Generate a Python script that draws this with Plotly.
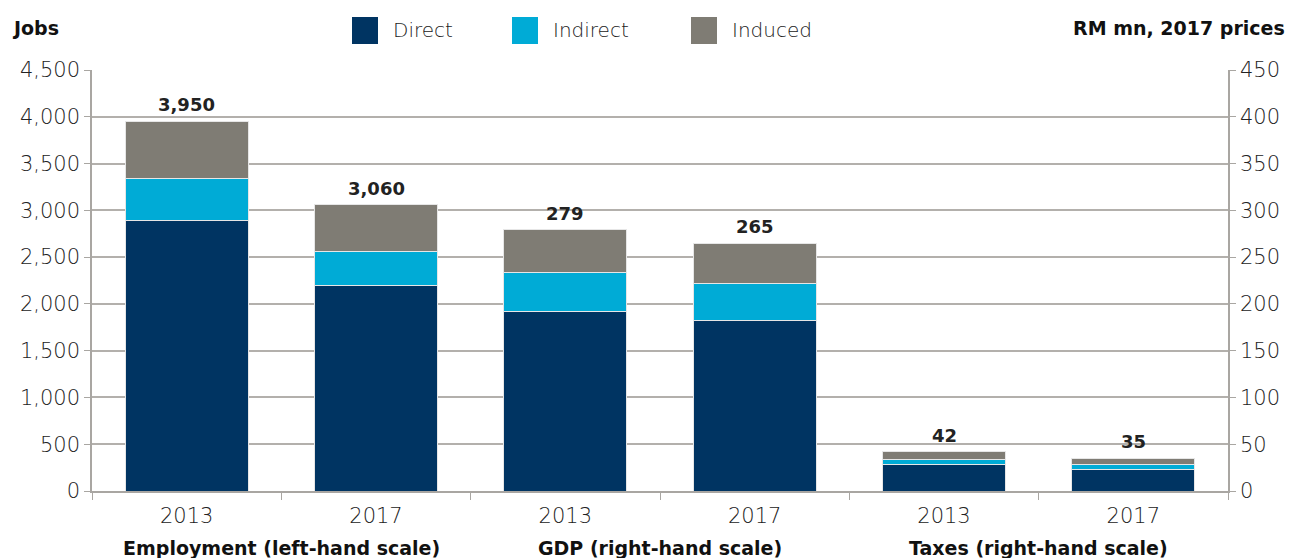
import plotly.graph_objects as go

years = ["2013", "2017", "2013", "2017", "2013", "2017"]
groups = ["Employment (left-hand scale)", "GDP (right-hand scale)", "Taxes (right-hand scale)"]
series = ["Direct", "Indirect", "Induced"]
colors = ["#003462", "#00abd6", "#7f7c74"]

# Employment (jobs, left scale)
emp_direct = [2890, 2195]
emp_indirect = [450, 370]
emp_induced = [610, 495]
emp_totals = [3950, 3060]

# GDP and Taxes (RM mn, right scale): GDP 2013, GDP 2017, Taxes 2013, Taxes 2017
rm_direct = [192, 182, 28, 23]
rm_indirect = [42, 40, 6, 5.5]
rm_induced = [45, 43, 8, 6.5]
rm_totals = [279, 265, 42, 35]

FONT = "DejaVu Sans"
fig = go.Figure()

emp_x = [0, 1]
rm_x = [2, 3, 4, 5]
emp_vals = [emp_direct, emp_indirect, emp_induced]
rm_vals = [rm_direct, rm_indirect, rm_induced]

for i, name in enumerate(series):
    fig.add_trace(go.Bar(x=emp_x, y=emp_vals[i], name=name,
                         marker=dict(color=colors[i], line=dict(color="#e6e6e6", width=1)),
                         width=0.65, showlegend=False, yaxis="y"))
for i, name in enumerate(series):
    fig.add_trace(go.Bar(x=rm_x, y=rm_vals[i], name=name,
                         marker=dict(color=colors[i], line=dict(color="#e6e6e6", width=1)),
                         width=0.65, showlegend=False, yaxis="y2"))

valfont = dict(family=FONT, size=18, color="#222222", weight="bold")
for x, v in zip(emp_x, emp_totals):
    fig.add_annotation(x=x, y=v, xref="x", yref="y", text=f"{v:,}", showarrow=False,
                       yanchor="bottom", yshift=4, font=valfont)
for x, v in zip(rm_x, rm_totals):
    fig.add_annotation(x=x, y=v, xref="x", yref="y2", text=f"{v:,}", showarrow=False,
                       yanchor="bottom", yshift=4, font=valfont)

# Page-pixel helpers (plot area spans x 92..1228, y 70..491 in the page)
def px(xp):
    return (xp - 92) / 1136

def py(yp):
    return (491 - yp) / 421

# Legend (drawn manually for large square swatches)
leg_x = [352, 512, 691]
for i, name in enumerate(series):
    fig.add_shape(type="rect", xref="paper", yref="paper",
                  x0=px(leg_x[i]), x1=px(leg_x[i] + 26),
                  y0=py(44), y1=py(17), fillcolor=colors[i], line_width=0)
    fig.add_annotation(text=name, xref="paper", yref="paper", x=px(leg_x[i] + 39), y=py(30),
                       xanchor="left", yanchor="middle", showarrow=False,
                       font=dict(family=FONT, size=20, color="#222222", weight=300))

fig.add_annotation(text="Jobs", xref="paper", yref="paper", x=px(10), y=py(28),
                   xanchor="left", yanchor="middle", showarrow=False,
                   font=dict(family=FONT, size=19, color="#111111", weight="bold"))
fig.add_annotation(text="RM mn, 2017 prices", xref="paper", yref="paper", x=px(1287), y=py(28),
                   xanchor="right", yanchor="middle", showarrow=False,
                   font=dict(family=FONT, size=19, color="#111111", weight="bold"))

for j, g in enumerate(groups):
    fig.add_annotation(text=g, xref="x", yref="paper", x=2 * j + 0.5, y=py(548),
                       xanchor="center", yanchor="middle", showarrow=False,
                       font=dict(family=FONT, size=19, color="#111111", weight="bold"))

tickfont = dict(family=FONT, size=21, color="#222222", weight=300)
fig.update_layout(
    barmode="stack",
    width=1285, height=550,
    margin=dict(l=84, r=65, t=62, b=67),
    plot_bgcolor="white", paper_bgcolor="white",
    xaxis=dict(range=[-0.5, 5.5], tickvals=list(range(6)), ticktext=years, ticks="",
               tickfont=tickfont, showgrid=False, zeroline=False, ticklabelstandoff=5,
               showline=True, linecolor="#a9a6a2", linewidth=1.5,
               minor=dict(tick0=-0.5, dtick=1, ticks="outside", ticklen=7, tickcolor="#a9a6a2", showgrid=False)),
    yaxis=dict(range=[0, 4500], dtick=500, tickformat=",", tickfont=tickfont,
               showgrid=True, gridcolor="#b3b0ac", gridwidth=1.5, zeroline=False,
               showline=True, linecolor="#a9a6a2", linewidth=1.5, ticks="outside", ticklen=6, tickcolor="#a9a6a2"),
    yaxis2=dict(range=[0, 450], dtick=50, overlaying="y", side="right", tickfont=tickfont,
                showgrid=False, zeroline=False, showline=True, linecolor="#a9a6a2", linewidth=1.5,
                ticks="outside", ticklen=6, tickcolor="#a9a6a2"),
)

fig.write_html("out.html")
